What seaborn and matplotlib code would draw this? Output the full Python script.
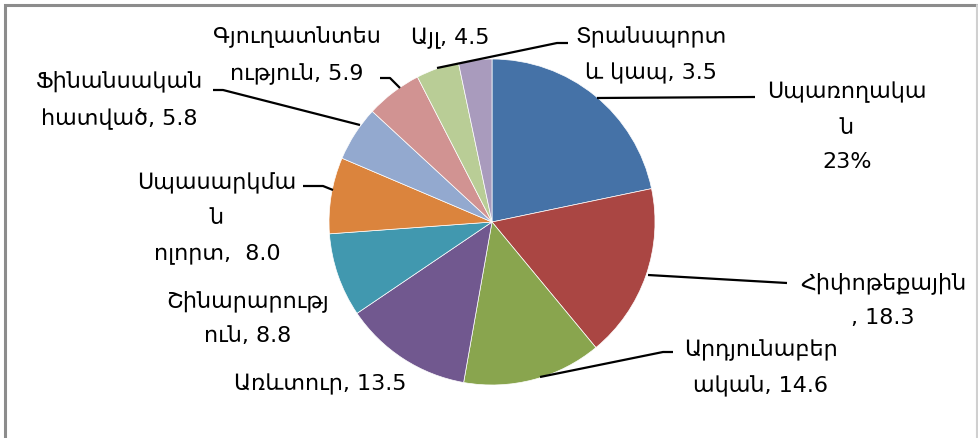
import matplotlib
matplotlib.use("Agg")
import matplotlib.pyplot as plt
import seaborn as sns

# ---- data ----
categories = ["Սպառողական", "Հիփոթեքային", "Արդյունաբերական", "Առևտուր",
              "Շինարարություն", "Սպասարկման ոլորտ", "Ֆինանսական հատված",
              "Գյուղատնտեսություն", "Այլ", "Տրանսպորտ և կապ"]
values = [23.0, 18.3, 14.6, 13.5, 8.8, 8.0, 5.8, 5.9, 4.5, 3.5]
labels = ["Սպառողակա\nն\n23%", "Հիփոթեքային\n, 18.3", "Արդյունաբեր\nական, 14.6",
          "Առևտուր, 13.5", "Շինարարությ\nուն, 8.8", "Սպասարկմա\nն\nոլորտ,  8.0",
          "Ֆինանսական\nհատված, 5.8", "Գյուղատնտես\nություն, 5.9", "Այլ, 4.5",
          "Տրանսպորտ\nև կապ, 3.5"]
colors = ["#4572A7", "#AA4643", "#89A54E", "#71588F", "#4198AF",
          "#DB843D", "#93A9CF", "#D19392", "#B9CD96", "#A99BBD"]

sns.set_theme(style="white")
plt.rcParams["font.family"] = ["DejaVu Sans"]
palette = sns.color_palette(colors)

W, H = 979, 438
fig = plt.figure(figsize=(W / 100, H / 100), dpi=100)
ax = fig.add_axes([0, 0, 1, 1])

def Y(y):
    return H - y

cx, cy, r = 492, Y(222), 163
ax.pie(values, colors=palette, startangle=90, counterclock=False,
       center=(cx, cy), radius=r,
       wedgeprops=dict(edgecolor="white", linewidth=0.5))
ax.set_xlim(0, W)
ax.set_ylim(0, H)
ax.set_aspect("auto")
ax.axis("off")

# label positions (pixel layout)
label_pos = [(847, 127), (883, 300), (761, 368), (320, 384), (248, 318),
             (217, 218), (119, 100), (297, 56), (450, 38), (651, 55)]
fs = 16
for lab, (x, y) in zip(labels, label_pos):
    ax.text(x, Y(y), lab, ha="center", va="center", fontsize=fs,
            color="black", linespacing=1.9)

# leader lines
leaders = [
    [(597, 98), (755, 97)],
    [(648, 275), (787, 283)],
    [(540, 377), (663, 352), (673, 352)],
    [(333, 190), (323, 186), (303, 186)],
    [(360, 125), (223, 90), (213, 90)],
    [(400, 88), (390, 78), (380, 78)],
    [(437, 68), (557, 43), (568, 43)],
]
for pts in leaders:
    xs = [p[0] for p in pts]
    ys = [Y(p[1]) for p in pts]
    ax.plot(xs, ys, color="black", lw=1.6, solid_capstyle="butt")

# chart frame
ax.plot([5.5, 5.5, 977.5], [-5, Y(4.5), Y(4.5)], color="#8c8c8c", lw=2.2,
        solid_joinstyle="miter")
ax.plot([977.5, 977.5], [Y(4.5), -5], color="#d0d0d0", lw=1.5)

fig.savefig("out.png", dpi=100)
